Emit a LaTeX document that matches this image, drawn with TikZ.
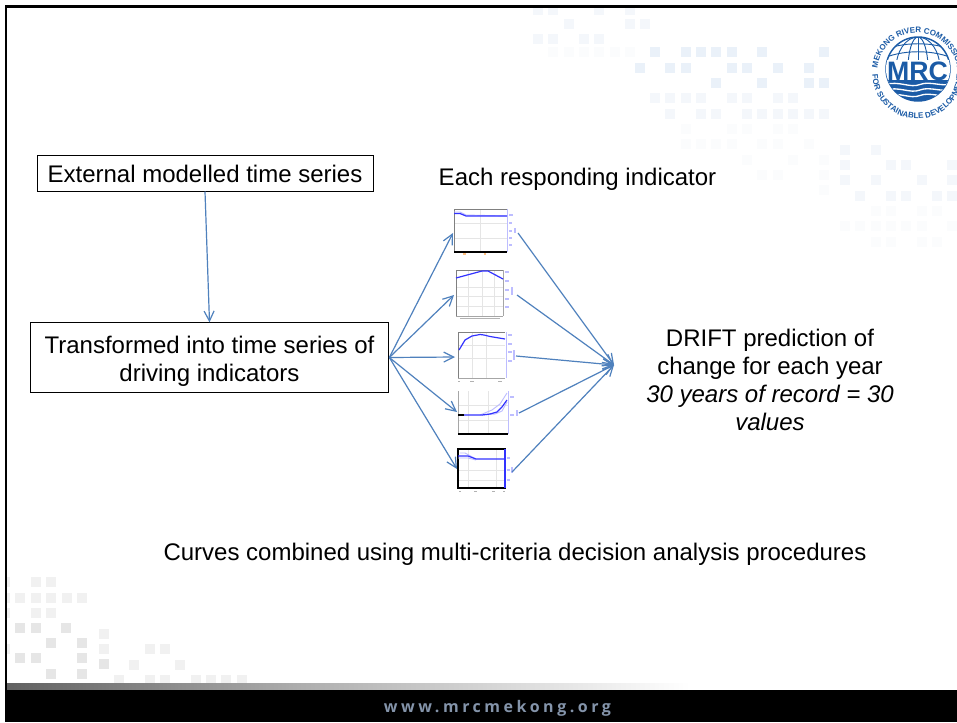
\documentclass[tikz,border=0pt]{standalone}
\usepackage{fontspec}
\setmainfont{Liberation Sans}
\newfontfamily\webfont[LetterSpace=22]{Open Sans}
\usetikzlibrary{arrows.meta,decorations.text}
\definecolor{arrowblue}{HTML}{4F81BD}
\definecolor{logoblue}{HTML}{1B5BA6}
\definecolor{sqa}{HTML}{EAF1F9}
\definecolor{sqb}{HTML}{F4F7FB}
\definecolor{sqc}{HTML}{FBFCFD}
\definecolor{gra}{HTML}{E6E6E6}
\definecolor{grb}{HTML}{F1F1F1}
\definecolor{webtext}{HTML}{8494AA}
\definecolor{plotblue}{HTML}{3333FF}
\definecolor{plotlight}{HTML}{BDBDFF}
\newcommand{\sqrow}[3]{\foreach \qx in {#2} \fill[#1] (\qx-5,#3-5) rectangle (\qx+5,#3+5);}
\tikzset{
  x=0.75pt,y=-0.75pt,
  textbox/.style={draw=black,line width=0.75pt,fill=white,align=center,font=\fontsize{18}{21}\selectfont,inner sep=0pt},
  label text/.style={align=center,font=\fontsize{18}{21}\selectfont,inner sep=0pt},
  link/.style={draw=arrowblue,line width=0.9pt,-{Straight Barb[length=7.5pt,width=7.5pt,line width=0.9pt]}},
  grid line/.style={draw=black!10,line width=0.4pt},
  frame grey/.style={draw=black!50,line width=0.7pt},
  main curve/.style={draw=plotblue,line width=0.9pt},
  light curve/.style={draw=plotlight,line width=0.7pt},
  tick mark/.style={draw=plotlight,line width=1pt},
}
\begin{document}
\begin{tikzpicture}
\useasboundingbox (0,0) rectangle (957,722);
\fill[white] (0,0) rectangle (957,722);
% top right squares, block 1
\sqrow{sqb}{538,553,599,630}{10}
\sqrow{sqb}{569,630,645}{24}
\sqrow{sqb}{538,553,584,599}{39}
\sqrow{sqc}{553,569,584,599,615,630}{52}
% block 2
\sqrow{sqa}{655,686,701,716,732,762,824}{52}
\sqrow{sqa}{640,670,686,732,747,778,809}{68}
\sqrow{sqa}{716,762,809,824}{83}
\sqrow{sqb}{655,670,686,701,732,747,778,793}{98}
\sqrow{sqb}{670,701,716,747,762,778,793,809,824}{114}
\sqrow{sqc}{686,732,747,778,793}{129}
\sqrow{sqc}{686,701,716,732,762,778,809}{144}
\sqrow{sqc}{747,793,824}{160}
\sqrow{sqc}{762,778,824}{175}
\sqrow{sqc}{824}{190}
% block 3
\sqrow{sqb}{845,876}{150}
\sqrow{sqb}{845,891,906,952}{165}
\sqrow{sqb}{845,876,922,952}{180}
\sqrow{sqb}{860,891,906,937,952}{196}
\sqrow{sqc}{876,891,922,937}{211}
\sqrow{sqc}{845,860,876,891,906,922,952}{226}
\sqrow{sqc}{876,891,922,937}{242}
% bottom left squares
\sqrow{grb}{5,36,51}{582}
\sqrow{grb}{5,20,36,51,67,82}{598}
\sqrow{grb}{5,36,51}{613}
\sqrow{gra}{20,36,66}{628}
\sqrow{grb}{104}{634}
\sqrow{gra}{51,82}{643}
\sqrow{grb}{5,104,150,165}{649}
\sqrow{gra}{20,36,82}{658}
\sqrow{gra}{104}{664}
\sqrow{grb}{134,180}{665}
\sqrow{gra}{51,82}{674}
\sqrow{grb}{119,150,165,196,211,226,242}{680}
% margin and footer
\fill[white] (0,0) rectangle (5,722);
\shade[left color=black!62,right color=black!32] (7,683) rectangle (300,690);
\shade[left color=black!32,right color=white] (300,683) rectangle (690,690);
\fill[black] (5,690) rectangle (957,722);
\fill[black] (5,5) rectangle (7,690);
\fill[black] (5,5) rectangle (957,8);
\node[font=\webfont\bfseries\fontsize{12}{14}\selectfont,text=webtext,inner sep=0pt] (web) at (497.5,708) {www.mrcmekong.org};
% logo
\begin{scope}
  \draw[logoblue,line width=1.1pt] (918,69) circle (32);
  \begin{scope}
    \clip (918,69) circle (32);
    \foreach \rx in {10,22} \draw[logoblue,line width=0.7pt] (918,69) ellipse ({\rx} and 32);
    \draw[logoblue,line width=0.7pt] (918,37) -- (918,101);
    \foreach \py in {44,52} \draw[logoblue,line width=0.7pt] (880,\py+8) .. controls (900,\py-3) and (936,\py-3) .. (956,\py+8);
    \fill[white] (880,60) rectangle (956,84);
    \fill[logoblue] (880,80) rectangle (956,104);
    \foreach \wy in {84.5,90,95.5}
      \draw[white,line width=1pt] (884,\wy) .. controls (900,\wy-4) and (910,\wy+4) .. (920,\wy) .. controls (930,\wy-4) and (942,\wy+3) .. (954,\wy-1);
  \end{scope}
  \node[font=\bfseries\fontsize{20}{20}\selectfont,text=logoblue,inner sep=0pt] (mrc) at (917.5,71) {MRC};
  \path[decorate,decoration={text along path,text align=center,raise=0pt,
      text={|\bfseries\fontsize{6}{7}\selectfont\color{logoblue}|MEKONG RIVER COMMISSION}}]
    (878.6,83) arc[start angle=195,end angle=-15,x radius=40,y radius=-40];
  \path[decorate,decoration={text along path,text align=center,
      text={|\bfseries\fontsize{6}{7}\selectfont\color{logoblue}|FOR SUSTAINABLE DEVELOPMENT}}]
    (873,66) arc[start angle=170,end angle=370,x radius=45,y radius=-45];
\end{scope}
% boxes and labels
\node[textbox,minimum width=252pt,minimum height=27pt] (ext) at (205,173) {\rule{0pt}{14.5pt}External modelled time series};
\node[textbox,minimum width=269pt,minimum height=52pt] (trans) at (209.5,357.5) {\rule{0pt}{18pt}Transformed into time series of\\driving indicators};
\node[label text] (each) at (577.5,179) {Each responding indicator};
\node[label text] (drift) at (770,380) {DRIFT prediction of\\change for each year\\\textit{30 years of record = 30}\\\textit{values}};
\node[label text] (curves) at (515,554) {Curves combined using multi-criteria decision analysis procedures};
% chart 1
\draw[grid line] (454,223)--(507,223) (454,238)--(507,238) (480,209)--(480,252);
\draw[frame grey] (454,252)--(454,209)--(507,209);
\draw[draw=plotlight,line width=0.7pt] (507,209)--(507,252);
\draw[black,line width=1pt] (454,252)--(507,252);
\draw[light curve] (454,212)--(460,212)--(466,215)--(507,216);
\draw[main curve] (454,213.5)--(460,213.5)--(466,216)--(507,216);
\draw[tick mark] (509,215)--(513,215) (509,223)--(512,223) (509,231)--(512,231) (509,238)--(512,238) (509,245)--(512,245) (515,228)--(515,233);
\draw[draw=orange!50,line width=0.8pt] (463,254)--(466,254) (484,254)--(486,254);
% chart 2
\draw[grid line] (456,287)--(503,287) (456,296)--(503,296) (456,306)--(503,306) (468,270)--(468,316) (482,270)--(482,316) (494,270)--(494,316);
\draw[frame grey] (456,316)--(456,270)--(503,270);
\draw[draw=black!35,line width=0.5pt] (456,316)--(503,316) (503,270)--(503,316);
\draw[main curve] (456,278)--(482,271)--(488,271)--(503,279);
\draw[tick mark] (505,272)--(509,272) (505,281)--(509,281) (505,290)--(509,290) (505,299)--(509,299) (505,307)--(509,307) (512,287)--(512,295);
\draw[draw=black!30,line width=0.7pt] (460,318)--(500,318);
% chart 3
\draw[grid line] (458,345)--(505,345) (458,358)--(505,358) (472,332)--(472,378) (486,332)--(486,378);
\draw[frame grey] (458,378)--(458,332)--(505,332);
\draw[draw=black!35,line width=0.5pt] (458,378)--(505,378);
\draw[draw=plotlight,line width=0.7pt] (506,332)--(506,378);
\draw[main curve] (459,350)--(465,340)--(472,336)--(480,334.5)--(484,335)--(490,336.5)--(505,339);
\draw[tick mark] (508,335)--(512,335) (508,344)--(512,344) (508,352)--(512,352) (508,361)--(512,361) (514,350)--(514,360);
\draw[draw=black!30,line width=0.7pt] (458,381)--(460,381) (470,381)--(474,381) (498,381)--(502,381);
% chart 4
\draw[grid line] (458,405)--(508,405) (458,420)--(508,420) (468,391)--(468,434) (488,391)--(488,434);
\draw[draw=black!35,line width=0.5pt] (458,391)--(458,434);
\draw[draw=plotlight,line width=0.7pt] (508,391)--(508,434);
\draw[black,line width=1pt] (458,434)--(508,434);
\draw[light curve] (480,415)--(492,410)--(500,404)--(507,393);
\draw[light curve] (482,415)--(495,414)--(502,411)--(507,402);
\draw[main curve] (458,415)--(482,415)--(490,414)--(497,412)--(502,407)--(507,400);
\draw[black,line width=1.2pt] (458,415)--(464,415);
\draw[tick mark] (510,397)--(514,397) (510,415)--(514,415) (517,410)--(517,416);
% chart 5
\draw[grid line] (468,449)--(468,488) (496,449)--(496,488) (458,470)--(505,470) (458,480)--(505,480);
\draw[black,line width=0.9pt] (458,449) rectangle (505,488);
\draw[draw=plotblue,line width=0.8pt] (505,449)--(505,488);
\draw[light curve] (460,453)--(465,453)--(476,459);
\draw[light curve] (458,458)--(468,458)--(476,460);
\draw[main curve] (458,456)--(468,456)--(476,459)--(505,459);
\draw[tick mark] (507,458)--(510,458) (507,470)--(510,470) (507,480)--(510,480) (512,467)--(512,473);
\draw[draw=black!30,line width=0.7pt] (459,491)--(461,491) (474,491)--(477,491) (492,491)--(495,491) (503,491)--(505,491);
% connector ends
\coordinate (inA) at (453,233);
\coordinate (inB) at (454,295);
\coordinate (inC) at (455,357);
\coordinate (inD) at (457,412);
\coordinate (inE) at (457,469);
\coordinate (outA) at (518,233);
\coordinate (outB) at (517,295);
\coordinate (outC) at (516,356);
\coordinate (outD) at (519,413);
\coordinate (outE) at (512,472);
\coordinate (hub) at (614,365);
\draw[link] (ext.south) -- (trans.north);
\foreach \t in {inA,inB,inC,inD,inE} \draw[link] (trans.east) -- (\t);
\foreach \t in {outA,outB,outC,outD,outE} \draw[link] (\t) -- (hub);
\end{tikzpicture}
\end{document}
